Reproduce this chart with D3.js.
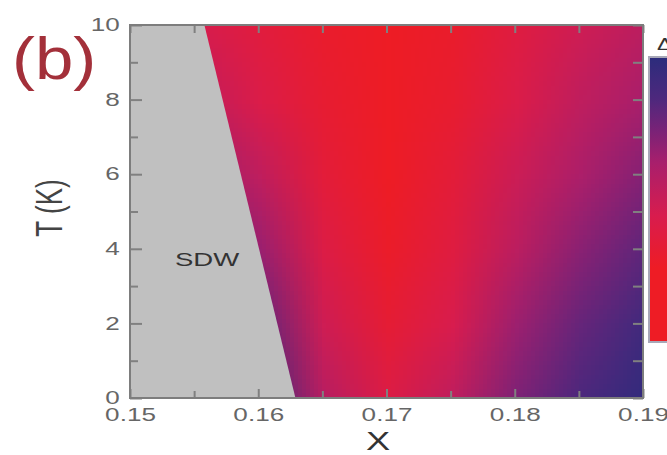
<!DOCTYPE html>
<meta charset="utf-8">
<script src="https://d3js.org/d3.v7.min.js"></script>
<body>
<div id="chart"></div>
<style>
 body { margin: 0; background: #fff; overflow: hidden; }
 text { font-family: 'Liberation Sans', Arial, sans-serif; }
</style>
<script>

// grid of the colour map: x columns, T rows
var xCols = [0.150, 0.155, 0.160, 0.165, 0.170, 0.175, 0.180, 0.185, 0.190];
var tRows = [0, 2, 4, 6, 8, 10];
// values (0 = blue ... 1 = red), one row per T
var gap = [
  [0.10, 0.10, 0.10, 0.58, 0.80, 0.62, 0.36, 0.18, 0.04],
  [0.20, 0.20, 0.28, 0.70, 0.90, 0.75, 0.46, 0.28, 0.12],
  [0.30, 0.30, 0.45, 0.80, 0.97, 0.83, 0.60, 0.40, 0.25],
  [0.45, 0.45, 0.62, 0.87, 1.00, 0.88, 0.68, 0.52, 0.38],
  [0.60, 0.62, 0.78, 0.92, 1.00, 0.93, 0.78, 0.62, 0.50],
  [0.72, 0.74, 0.85, 0.95, 1.00, 0.96, 0.83, 0.70, 0.60]
];
// SDW phase boundary
var sdwT = [0, 10];
var sdwX = [0.1629, 0.1558];

var xTicks = [0.15, 0.16, 0.17, 0.18, 0.19];
var xMinor = [0.155, 0.165, 0.175, 0.185];
var tTicks = [0, 2, 4, 6, 8, 10];
var tMinor = [1, 3, 5, 7, 9];

var W = 667, H = 455;
var margin = {top: 25, right: 24, bottom: 57, left: 130};
var width = 643 - margin.left, height = 398 - margin.top;
var sx = 1.45; // text is stretched sideways in the reference

var svg = d3.select("#chart").append("svg")
    .attr("width", W).attr("height", H);

var x = d3.scaleLinear().domain([0.15, 0.19]).range([margin.left, margin.left + width]);
var y = d3.scaleLinear().domain([0, 10]).range([margin.top + height, margin.top]);

var color = d3.scaleLinear()
    .domain([0, 0.2, 0.35, 0.5, 0.75, 1])
    .range(["#2b2c7c", "#4e287d", "#7a2277", "#a81f6c", "#d81c4e", "#ee1c25"])
    .clamp(true);

// paint the grid into a tiny canvas, the browser smooths it when scaled up
var cv = document.createElement("canvas");
cv.width = xCols.length; cv.height = tRows.length;
var ctx = cv.getContext("2d");
tRows.forEach(function(t, r) {
  xCols.forEach(function(xv, c) {
    ctx.fillStyle = color(gap[r][c]);
    ctx.fillRect(c, tRows.length - 1 - r, 1, 1);
  });
});
var dx = (xCols[1] - xCols[0]) / 2, dt = (tRows[1] - tRows[0]) / 2;

svg.append("clipPath").attr("id", "plotClip")
  .append("rect")
    .attr("x", x(0.15)).attr("y", y(10))
    .attr("width", width).attr("height", height);

svg.append("image")
    .attr("clip-path", "url(#plotClip)")
    .attr("href", cv.toDataURL())
    .attr("preserveAspectRatio", "none")
    .attr("x", x(xCols[0] - dx))
    .attr("y", y(tRows[tRows.length - 1] + dt))
    .attr("width", x(xCols[xCols.length - 1] + dx) - x(xCols[0] - dx))
    .attr("height", y(tRows[0] - dt) - y(tRows[tRows.length - 1] + dt));

// SDW region
var sdwPoly = [[0.15, sdwT[0]], [sdwX[0], sdwT[0]], [sdwX[1], sdwT[1]], [0.15, sdwT[1]]];
svg.append("path")
    .attr("d", "M" + sdwPoly.map(function(p) { return x(p[0]) + "," + y(p[1]); }).join("L") + "Z")
    .attr("fill", "#c0c0c0");

svg.append("text")
    .attr("transform", "translate(207,266) scale(" + sx + ",1)")
    .attr("text-anchor", "middle")
    .style("font-size", "19px").style("fill", "#333")
    .text("SDW");

// axes, ticks pointing inwards
function styleAxis(g) {
  g.select(".domain").remove();
  g.selectAll("line").attr("stroke", "#808080").attr("stroke-width", 2);
  g.selectAll("text").style("font-size", "18px").style("fill", "#666");
}

svg.append("g")
    .attr("transform", "translate(0," + y(0) + ")")
    .call(d3.axisBottom(x).tickValues(xTicks).tickSize(-9).tickPadding(10).tickFormat(d3.format(".2f")))
    .call(styleAxis)
    .call(function(g) { g.selectAll("text").attr("y", 10).attr("transform", "scale(" + sx + ",1)"); });
svg.append("g")
    .attr("transform", "translate(0," + y(0) + ")")
    .call(d3.axisBottom(x).tickValues(xMinor).tickSize(-7).tickFormat(""))
    .call(styleAxis);
svg.append("g")
    .attr("transform", "translate(0," + y(10) + ")")
    .call(d3.axisTop(x).tickValues(xTicks.concat(xMinor)).tickSize(-8).tickFormat(""))
    .call(styleAxis);

svg.append("g")
    .attr("transform", "translate(" + x(0.15) + ",0)")
    .call(d3.axisLeft(y).tickValues(tTicks).tickSize(-12).tickFormat(d3.format("d")))
    .call(styleAxis)
    .call(function(g) { g.selectAll("text").attr("x", -7).attr("transform", "scale(" + sx + ",1)"); });
svg.append("g")
    .attr("transform", "translate(" + x(0.15) + ",0)")
    .call(d3.axisLeft(y).tickValues(tMinor).tickSize(-8).tickFormat(""))
    .call(styleAxis);
svg.append("g")
    .attr("transform", "translate(" + x(0.19) + ",0)")
    .call(d3.axisRight(y).tickValues(tTicks.concat(tMinor)).tickSize(-10).tickFormat(""))
    .call(styleAxis);

// frame
svg.append("rect")
    .attr("x", x(0.15)).attr("y", y(10))
    .attr("width", width).attr("height", height)
    .attr("fill", "none").attr("stroke", "#7d7d7d").attr("stroke-width", 2);

// axis titles
svg.append("text")
    .attr("transform", "translate(378,450) scale(" + sx + ",1)")
    .attr("text-anchor", "middle")
    .style("font-size", "25px").style("fill", "#333")
    .text("X");
svg.append("text")
    .attr("transform", "translate(62,208) scale(" + sx + ",1) rotate(-90)")
    .attr("text-anchor", "middle")
    .style("font-size", "26px").style("fill", "#444")
    .text("T (K)");

// panel label
svg.append("text")
    .attr("transform", "translate(12,79) scale(1.15,1)")
    .style("font-size", "60px").style("fill", "#a3303a")
    .text("(b)");

// colour bar, blue on top, red at the bottom
var cbar = d3.scaleLinear().domain([0, 1.35]).range([57, 342]);
var grad = svg.append("defs").append("linearGradient")
    .attr("id", "cb").attr("x1", 0).attr("x2", 0).attr("y1", 0).attr("y2", 1);
d3.range(0, 1.351, 0.05).forEach(function(v) {
  grad.append("stop")
    .attr("offset", (cbar(v) - 57) / (342 - 57))
    .attr("stop-color", color(v));
});
svg.append("rect")
    .attr("x", 649).attr("y", cbar(0))
    .attr("width", 40).attr("height", cbar(1.35) - cbar(0))
    .attr("fill", "url(#cb)")
    .attr("stroke", "#a8a8b8").attr("stroke-width", 2);
svg.append("text")
    .attr("transform", "translate(657,50) scale(" + sx + ",1)")
    .style("font-size", "16px").style("fill", "#333")
    .text("Δ");

</script>
</body>
